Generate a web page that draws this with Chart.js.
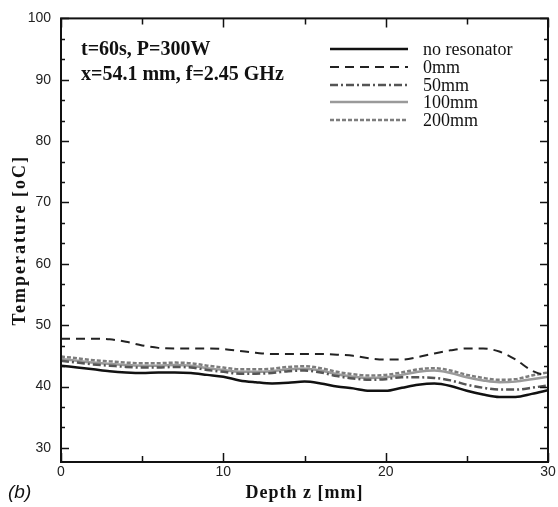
<!DOCTYPE html>
<html>
<head>
<meta charset="utf-8">
<script src="https://cdn.jsdelivr.net/npm/chart.js@4.4.1/dist/chart.umd.min.js"></script>
<style>
  html, body { margin: 0; padding: 0; background: #fff; }
  #wrap { width: 558px; height: 507px; position: relative; }
</style>
</head>
<body>
<div id="wrap"><canvas id="tempChart"></canvas></div>
<script>
// depth positions (mm)
const depth = [0,1,2,3,4,5,6,7,8,9,10,11,12,13,14,15,16,17,18,19,20,21,22,23,24,25,26,27,28,29,30];

// temperatures (oC)
const noResonator = [43.4,43.1,42.8,42.5,42.3,42.2,42.3,42.3,42.2,41.9,41.6,41.0,40.7,40.5,40.6,40.8,40.5,40.0,39.7,39.3,39.3,39.8,40.3,40.5,40.1,39.3,38.7,38.3,38.3,38.8,39.4];
const res0mm = [47.8,47.8,47.8,47.7,47.3,46.7,46.3,46.2,46.2,46.2,46.1,45.8,45.5,45.3,45.3,45.3,45.3,45.2,45.0,44.6,44.4,44.4,44.8,45.4,45.9,46.2,46.2,45.7,44.4,42.6,41.6];
const res50mm = [44.2,43.9,43.6,43.4,43.2,43.1,43.1,43.2,43.1,42.7,42.4,42.1,42.1,42.2,42.5,42.6,42.3,41.7,41.3,41.1,41.2,41.5,41.5,41.4,41.0,40.3,39.8,39.5,39.5,39.8,40.2];
const res100mm = [44.5,44.2,43.9,43.7,43.5,43.4,43.4,43.5,43.4,43.0,42.7,42.4,42.4,42.5,42.8,42.9,42.6,42.0,41.6,41.4,41.5,41.9,42.4,42.6,42.2,41.5,41.0,40.7,40.8,41.2,41.6];
const res200mm = [44.9,44.6,44.3,44.1,43.9,43.8,43.8,43.9,43.8,43.4,43.1,42.8,42.8,42.9,43.2,43.3,43.0,42.4,42.0,41.8,41.9,42.3,42.8,43.0,42.6,41.9,41.4,41.1,41.2,41.8,42.3];

// axis ticks
const yMajor = [30,40,50,60,70,80,90,100];
const xMajor = [0,10,20,30];
const xMinor = [5,15,25];

const seriesNames = ['no resonator','0mm','50mm','100mm','200mm'];

const toPts = arr => arr.map((v, i) => ({x: depth[i], y: v}));

const serif = '"Liberation Serif", "DejaVu Serif", serif';
const sans = '"Liberation Sans", Arial, sans-serif';

// frame, inward ticks, axis titles, legend and notes
const decorPlugin = {
    id: 'decor',
    afterDraw(chart) {
        const ctx = chart.ctx;
        const a = chart.chartArea;
        const xs = chart.scales.x;
        const ys = chart.scales.y;
        ctx.save();
        ctx.strokeStyle = '#111';
        ctx.lineWidth = 2;
        ctx.strokeRect(a.left, a.top, a.right - a.left, a.bottom - a.top);

        ctx.lineWidth = 1.5;
        ctx.beginPath();
        // y ticks, major + minor (every 10/3)
        for (let k = 0; k <= 21; k++) {
            const v = 30 + k * 10 / 3;
            if (v > 100.01) break;
            const py = Math.round(ys.getPixelForValue(v)) + 0.5;
            const len = (k % 3 === 0) ? 8 : 4;
            ctx.moveTo(a.left, py); ctx.lineTo(a.left + len, py);
            ctx.moveTo(a.right, py); ctx.lineTo(a.right - len, py);
        }
        // x ticks
        xMajor.concat(xMinor).forEach(v => {
            const px = Math.round(xs.getPixelForValue(v)) + 0.5;
            const len = xMajor.includes(v) ? 9 : 6;
            ctx.moveTo(px, a.bottom); ctx.lineTo(px, a.bottom - len);
            ctx.moveTo(px, a.top); ctx.lineTo(px, a.top + len);
        });
        ctx.stroke();

        ctx.fillStyle = '#111';
        ctx.textBaseline = 'middle';

        // axis titles (drawn here for the wide letter spacing of the scan)
        ctx.textAlign = 'center';
        ctx.font = 'bold 18px ' + serif;
        ctx.letterSpacing = '1px';
        ctx.fillText('Depth z [mm]', (a.left + a.right) / 2, 493);
        ctx.save();
        ctx.translate(20, (a.top + a.bottom) / 2);
        ctx.rotate(-Math.PI / 2);
        ctx.letterSpacing = '2px';
        ctx.fillText('Temperature [oC]', 0, 0);
        ctx.restore();
        ctx.letterSpacing = '0px';

        // annotation
        ctx.textAlign = 'left';
        ctx.font = 'bold 20px ' + serif;
        ctx.fillText('t=60s, P=300W', 81, 50);
        ctx.fillText('x=54.1 mm, f=2.45 GHz', 81, 75);

        // legend
        const rows = [49, 67, 85, 102, 120];
        chart.data.datasets.forEach((ds, i) => {
            const y = rows[i];
            ctx.strokeStyle = ds.borderColor;
            ctx.lineWidth = ds.borderWidth;
            ctx.setLineDash(ds.borderDash || []);
            ctx.beginPath();
            ctx.moveTo(330, y); ctx.lineTo(408, y);
            ctx.stroke();
            ctx.setLineDash([]);
            ctx.fillStyle = '#111';
            ctx.font = '18px ' + serif;
            ctx.fillText(ds.label, 423, y + 1);
        });

        // panel label
        ctx.font = 'italic 19px ' + sans;
        ctx.fillText('(b)', 8, 493);
        ctx.restore();
    }
};

new Chart(document.getElementById('tempChart'), {
    type: 'line',
    data: {
        datasets: [
            { label: seriesNames[0], data: toPts(noResonator), borderColor: '#111', borderWidth: 2.5 },
            { label: seriesNames[1], data: toPts(res0mm), borderColor: '#222', borderWidth: 2, borderDash: [9, 6] },
            { label: seriesNames[2], data: toPts(res50mm), borderColor: '#555', borderWidth: 2.5, borderDash: [8, 3, 2, 3] },
            { label: seriesNames[3], data: toPts(res100mm), borderColor: '#9a9a9a', borderWidth: 2.5 },
            { label: seriesNames[4], data: toPts(res200mm), borderColor: '#7d7d7d', borderWidth: 2.5, borderDash: [4, 2] }
        ]
    },
    options: {
        responsive: true,
        maintainAspectRatio: false,
        animation: false,
        layout: { padding: { top: 16, right: 10, left: 0, bottom: 0 } },
        elements: { point: { radius: 0 }, line: { tension: 0.4, cubicInterpolationMode: 'monotone' } },
        plugins: { legend: { display: false }, tooltip: { enabled: false } },
        scales: {
            x: {
                type: 'linear',
                min: 0, max: 30,
                afterBuildTicks: s => { s.ticks = xMajor.map(v => ({ value: v })); },
                afterFit: s => { s.height = 45; },
                grid: { display: false, drawTicks: false },
                border: { display: false },
                ticks: { color: '#222', font: { family: sans, size: 14 }, padding: 2, maxRotation: 0 }
            },
            y: {
                min: 27.7, max: 100,
                afterBuildTicks: s => { s.ticks = yMajor.map(v => ({ value: v })); },
                afterFit: s => { s.width = 61; },
                grid: { display: false, drawTicks: false },
                border: { display: false },
                ticks: { color: '#222', font: { family: sans, size: 14 }, padding: 10 }
            }
        }
    },
    plugins: [decorPlugin]
});
</script>
</body>
</html>
